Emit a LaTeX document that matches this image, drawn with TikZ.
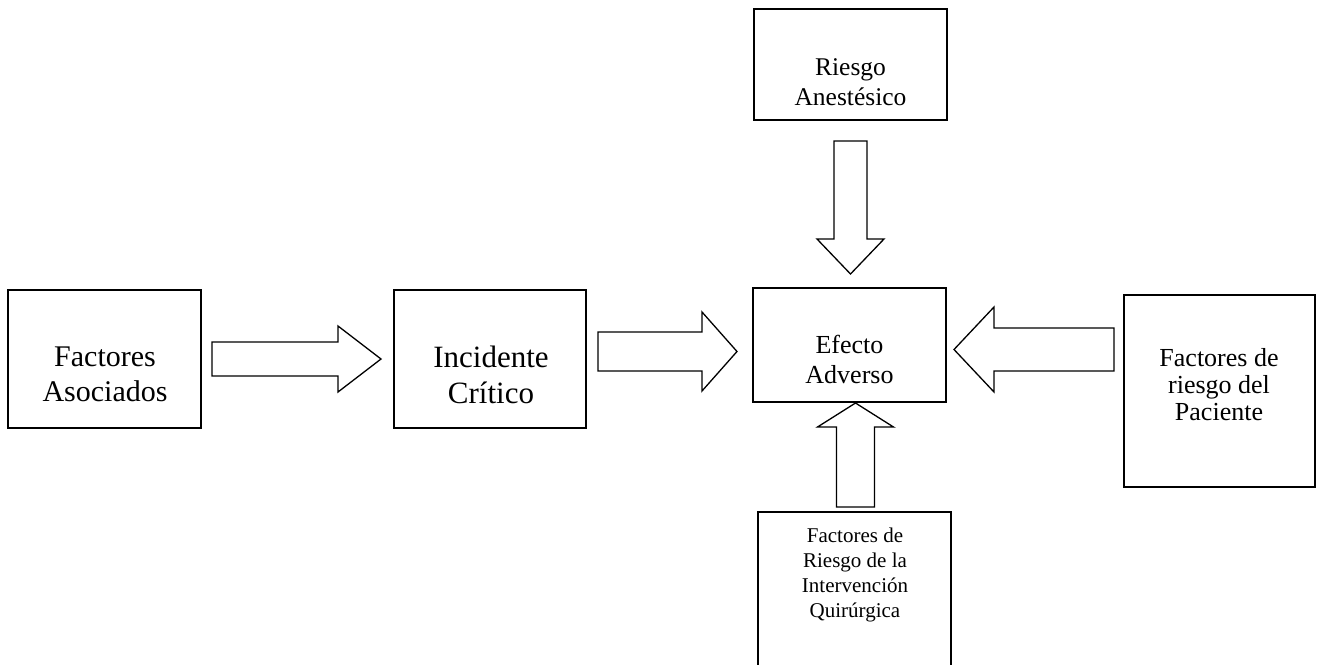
\documentclass[tikz,border=0pt]{standalone}
\usepackage{fontspec}
\setmainfont{Liberation Serif}
\newcommand\harrowshape[6]{% x start, x tip, y centre, half shaft, half head, x head base
  \draw[blk] (#1,#3-#4) -- (#6,#3-#4) -- (#6,#3-#5) -- (#2,#3) -- (#6,#3+#5) -- (#6,#3+#4) -- (#1,#3+#4) -- cycle;}
\newcommand\varrowshape[6]{% y start, y tip, x centre, half shaft, half head, y head base
  \draw[blk] (#3-#4,#1) -- (#3-#4,#6) -- (#3-#5,#6) -- (#3,#2) -- (#3+#5,#6) -- (#3+#4,#6) -- (#3+#4,#1) -- cycle;}
\begin{document}
\begin{tikzpicture}[x=1pt,y=-1pt,
  box/.style={draw=black, line width=1.7pt, fill=white, inner sep=0pt, minimum width=#1},
  blk/.style={draw=black, line width=1.3pt, fill=white, line join=miter},
  lbl/.style={inner sep=0pt, align=center, text=black}]
\useasboundingbox (0,0) rectangle (1321,664);
\clip (0,0) rectangle (1321,664);
\fill[white] (0,0) rectangle (1321,664);
% boxes
\node[box=193pt, minimum height=138pt] (A) at (104.5,359) {};
\node[box=192pt, minimum height=138pt] (B) at (490,359) {};
\node[box=193pt, minimum height=114pt] (C) at (849.5,345) {};
\node[box=193pt, minimum height=111pt] (D) at (850.5,64.5) {};
\node[box=191pt, minimum height=192pt] (E) at (1219.5,391) {};
\node[box=193pt, minimum height=170pt] (F) at (854.5,597) {};
% labels
\node[lbl, font=\fontsize{30}{35}\selectfont] (tA) at (105,374.5) {Factores\\Asociados};
\node[lbl, font=\fontsize{31}{36}\selectfont] (tB) at (491,374.5) {Incidente\\Crítico};
\node[lbl, font=\fontsize{26}{30}\selectfont] (tC) at (849.5,359) {Efecto\\Adverso};
\node[lbl, font=\fontsize{25.5}{30}\selectfont] (tD) at (850.5,82.5) {Riesgo\\Anestésico};
\node[lbl, font=\fontsize{26}{27}\selectfont] (tE) at (1219,385) {Factores de\\riesgo del\\Paciente};
\node[lbl, font=\fontsize{21}{24.7}\selectfont] (tF) at (855,575) {Factores de\\Riesgo de la\\Intervención\\Quirúrgica};
% block arrows
\harrowshape{212}{381}{359}{17}{33}{338}
\harrowshape{598}{737}{351.5}{19.5}{39.5}{702}
\harrowshape{1114}{954}{349.5}{21.5}{42.5}{994}
\varrowshape{141}{274}{850.5}{16.5}{33.5}{239}
\varrowshape{507}{403}{855.5}{19}{38}{427}
\end{tikzpicture}
\end{document}
